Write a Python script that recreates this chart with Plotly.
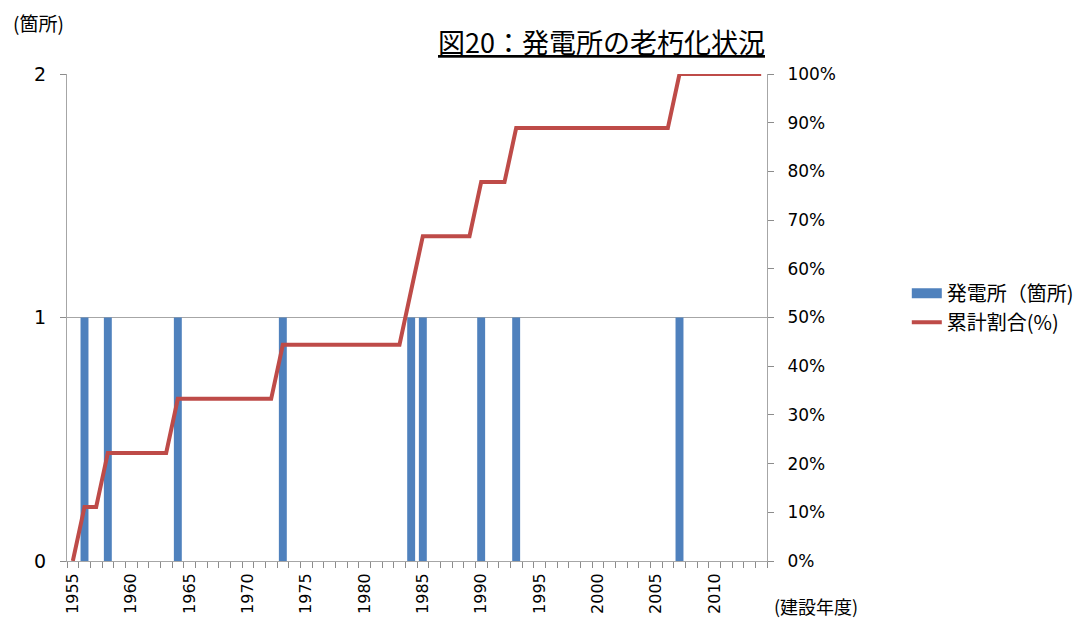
import plotly.graph_objects as go

# Construction years (category axis) and number of plants built in each year
years = list(range(1955, 2015))
plant_years = [1956, 1958, 1964, 1973, 1984, 1985, 1990, 1993, 2007]
plant_counts = [1, 1, 1, 1, 1, 1, 1, 1, 1]

# Cumulative share of plants (%) per construction year, 1955-2014
cum_share = [
    0.0,
    11.1, 11.1,
    22.2, 22.2, 22.2, 22.2, 22.2, 22.2,
    33.3, 33.3, 33.3, 33.3, 33.3, 33.3, 33.3, 33.3, 33.3,
    44.4, 44.4, 44.4, 44.4, 44.4, 44.4, 44.4, 44.4, 44.4, 44.4, 44.4,
    55.6,
    66.7, 66.7, 66.7, 66.7, 66.7,
    77.8, 77.8, 77.8,
    88.9, 88.9, 88.9, 88.9, 88.9, 88.9, 88.9, 88.9, 88.9, 88.9, 88.9, 88.9, 88.9, 88.9,
    100.0, 100.0, 100.0, 100.0, 100.0, 100.0, 100.0, 100.0,
]

JP = "Noto Sans CJK JP"
NUM = "DejaVu Sans"
GRID = "#A6A6A6"
TICK = "#8C8C8C"
BLUE = "#4F81BD"
RED = "#BE4B48"
XRANGE = [years[0] - 0.5, years[-1] + 0.5]
boundaries = [y - 0.5 for y in years] + [years[-1] + 0.5]
label_years = [y for y in years if y % 5 == 0]

fig = go.Figure()
fig.add_trace(go.Bar(
    x=plant_years, y=plant_counts, name="発電所（箇所)",
    marker=dict(color=BLUE, line=dict(width=0)),
    width=0.68, legendgroup="plants", showlegend=False,
))
# wide-rectangle legend key for the bar series
fig.add_trace(go.Scatter(
    x=[None], y=[None], name="発電所（箇所)", mode="lines",
    line=dict(color=BLUE, width=10), legendgroup="plants",
))
# cumulative share line, on the secondary x (same range) and right-hand y axes
fig.add_trace(go.Scatter(
    x=years, y=cum_share, name="累計割合(%)", xaxis="x2", yaxis="y2",
    mode="lines", line=dict(color=RED, width=4),
))

fig.update_layout(
    width=1090, height=622,
    margin=dict(l=67, r=322, t=74, b=61),
    paper_bgcolor="white", plot_bgcolor="white",
    font=dict(family=JP, size=17, color="#000000"),
    showlegend=True,
    legend=dict(x=1.198, y=0.59, xanchor="left", yanchor="top",
                font=dict(size=20, family=JP), itemwidth=30, tracegroupgap=0,
                borderwidth=0, bgcolor="rgba(0,0,0,0)"),
    # primary x: tick marks on the boundaries between year categories
    xaxis=dict(
        range=XRANGE,
        tickmode="array", tickvals=boundaries,
        ticks="outside", ticklen=6, tickwidth=1, tickcolor=TICK,
        showticklabels=False, automargin=False,
        showgrid=False, zeroline=False,
        showline=True, linecolor=GRID, linewidth=1,
    ),
    # secondary x: year labels every five years
    xaxis2=dict(
        range=XRANGE, overlaying="x", anchor="y2", side="bottom",
        tickmode="array", tickvals=label_years,
        ticktext=[str(y) for y in label_years],
        tickangle=-90, ticks="",
        ticklabelstandoff=8, automargin=False,
        tickfont=dict(size=16, family=NUM),
        showgrid=False, zeroline=False, showline=False,
    ),
    yaxis=dict(
        range=[0, 2], dtick=1, tickformat="d",
        ticks="outside", ticklen=6, tickcolor=TICK,
        ticklabelstandoff=10, automargin=False,
        tickfont=dict(size=19, family=NUM),
        showgrid=True, gridcolor=GRID, gridwidth=1,
        zeroline=False, showline=True, linecolor=GRID, linewidth=1,
    ),
    yaxis2=dict(
        range=[0, 100], dtick=10, ticksuffix="%",
        overlaying="y", side="right", anchor="x",
        ticks="outside", ticklen=6, tickcolor=TICK,
        ticklabelstandoff=10, automargin=False,
        tickfont=dict(size=17, family=NUM),
        showgrid=False, zeroline=False,
        showline=True, linecolor=GRID, linewidth=1,
    ),
    annotations=[
        dict(text="<u>図20：発電所の老朽化状況</u>", xref="paper", yref="paper",
             x=0.763, y=1.066, xanchor="center", yanchor="middle",
             showarrow=False, font=dict(size=27, family=JP)),
        dict(text="(箇所)", xref="paper", yref="paper",
             x=-0.041, y=1.106, xanchor="center", yanchor="middle",
             showarrow=False, font=dict(size=19, family=JP)),
        dict(text="(建設年度)", xref="paper", yref="paper",
             x=1.07, y=-0.092, xanchor="center", yanchor="middle",
             showarrow=False, font=dict(size=18, family=JP)),
    ],
)

fig.write_html("out.html")
